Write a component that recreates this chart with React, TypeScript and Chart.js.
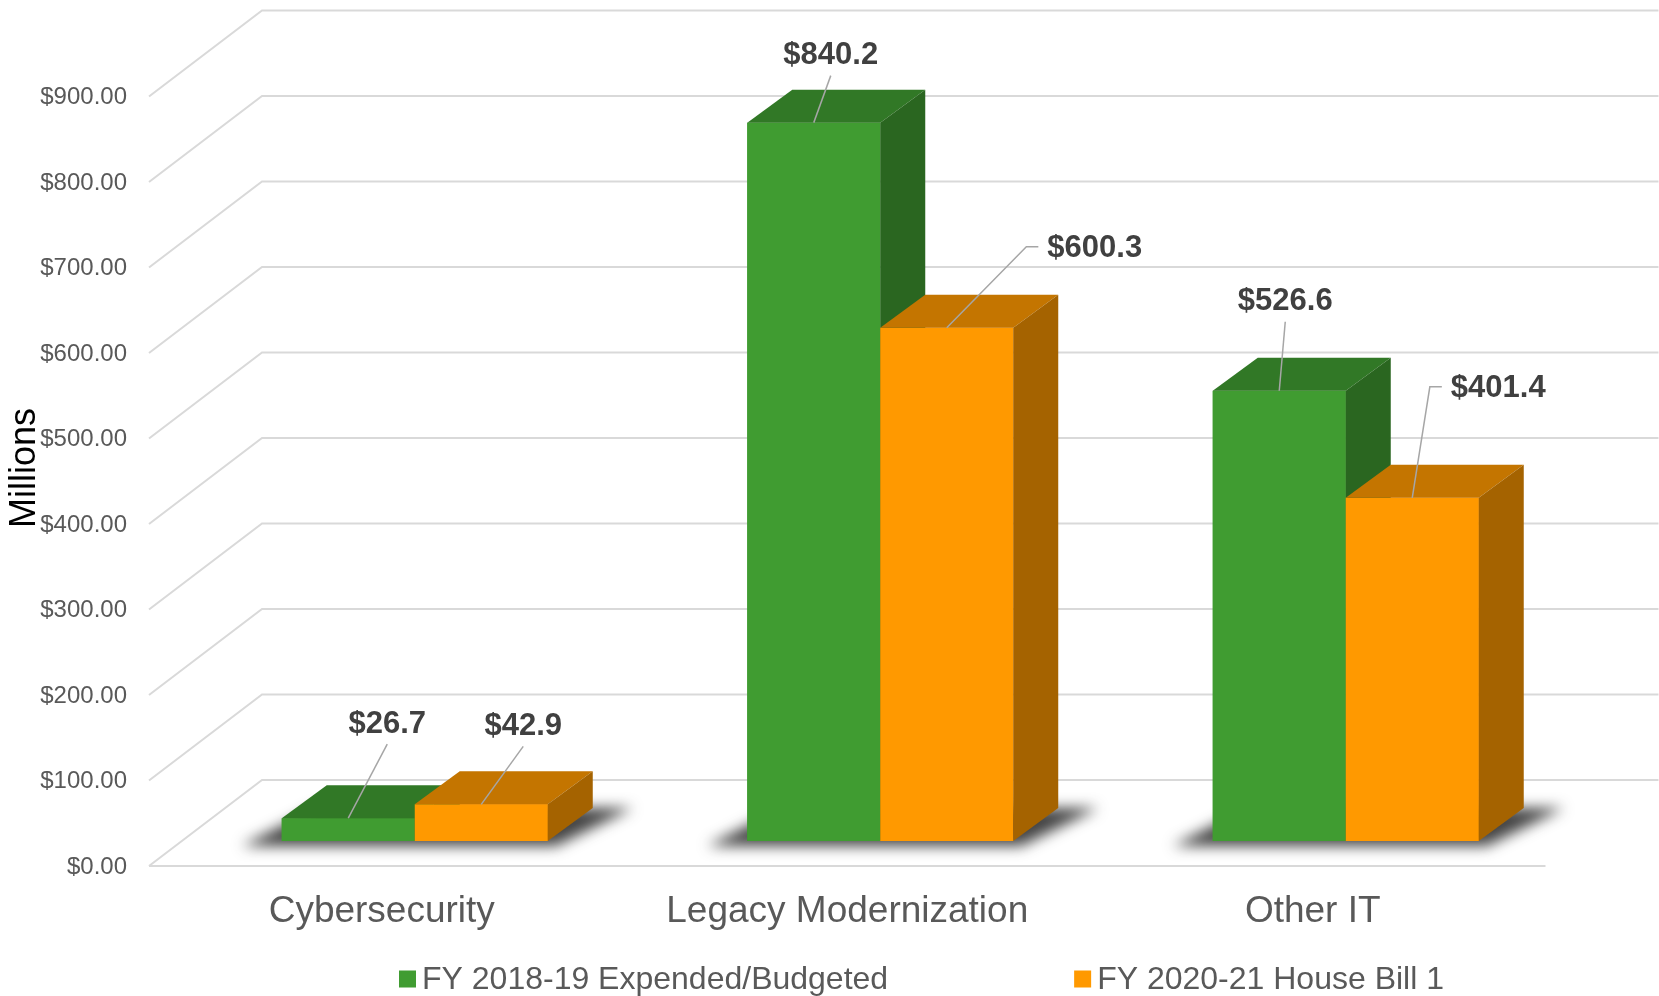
import React, { useEffect, useRef } from 'react';
import { Chart, registerables } from 'chart.js';

Chart.register(...registerables);

// ---- data ----
const categories = ['Cybersecurity', 'Legacy Modernization', 'Other IT'];
const seriesNames = ['FY 2018-19 Expended/Budgeted', 'FY 2020-21 House Bill 1'];
const fy1819Values = [26.7, 840.2, 526.6];
const fy2021Values = [42.9, 600.3, 401.4];
const yMin = 0;
const yMax = 900;
const yStep = 100;
const yAxisTitle = 'Millions';
const formatTick = (v: number) => '$' + v.toFixed(2);
const formatValue = (v: number) => '$' + v.toFixed(1);

// ---- styles ----
const FONT = '"Liberation Sans", Arial, Helvetica, sans-serif';
const FACES = [
  { front: '#409C31', top: '#317826', side: '#2A6620' },
  { front: '#FF9900', top: '#C47500', side: '#A56300' },
];
const BAR_DEPTH = { x: 45, y: -33 };
const WALL_FRONT = { x: -33, y: 25 };
const WALL_BACK = { x: 80, y: -61 };
const GRID_COLOR = '#d9d9d9';

// label placement relative to the bar's front-top centre
const labelPlacement = [
  [
    { dx: 39, dy: -94, leader: 'below' },
    { dx: 17, dy: -67, leader: 'below' },
    { dx: 6, dy: -89, leader: 'below' },
  ],
  [
    { dx: 42, dy: -78, leader: 'below' },
    { dx: 148, dy: -79, leader: 'left' },
    { dx: 86, dy: -109, leader: 'left' },
  ],
];

function poly(ctx: CanvasRenderingContext2D, pts: number[][]) {
  ctx.beginPath();
  ctx.moveTo(pts[0][0], pts[0][1]);
  for (let i = 1; i < pts.length; i++) ctx.lineTo(pts[i][0], pts[i][1]);
  ctx.closePath();
  ctx.fill();
}

const threeDPlugin = {
  id: 'threeD',
  beforeDatasetsDraw(chart: any) {
    const ctx: CanvasRenderingContext2D = chart.ctx;
    const { left, right } = chart.chartArea;
    const y = chart.scales.y;
    ctx.save();
    ctx.strokeStyle = GRID_COLOR;
    ctx.lineWidth = 2;
    y.ticks.forEach((t: any) => {
      const py = y.getPixelForValue(t.value);
      ctx.beginPath();
      ctx.moveTo(left + WALL_FRONT.x, py + WALL_FRONT.y);
      ctx.lineTo(left + WALL_BACK.x, py + WALL_BACK.y);
      ctx.lineTo(right + WALL_BACK.x, py + WALL_BACK.y);
      ctx.stroke();
    });
    const p0 = y.getPixelForValue(0);
    ctx.beginPath();
    ctx.moveTo(left + WALL_FRONT.x, p0 + WALL_FRONT.y);
    ctx.lineTo(right + WALL_FRONT.x, p0 + WALL_FRONT.y);
    ctx.stroke();

    // shadows under each category group
    const m0 = chart.getDatasetMeta(0);
    const m1 = chart.getDatasetMeta(1);
    ctx.filter = 'blur(7px)';
    ctx.fillStyle = 'rgba(35,35,35,0.85)';
    m0.data.forEach((b: any, i: number) => {
      const o = m1.data[i];
      const x0 = b.x - b.width / 2;
      const x1 = o.x + o.width / 2;
      const base = b.base;
      poly(ctx, [
        [x0 - 40, base + 5],
        [x1 + 8, base + 5],
        [x1 + BAR_DEPTH.x + 40, base + BAR_DEPTH.y],
        [x0 + BAR_DEPTH.x - 10, base + BAR_DEPTH.y],
      ]);
    });
    ctx.restore();
  },
  afterDatasetsDraw(chart: any) {
    const ctx: CanvasRenderingContext2D = chart.ctx;
    // 3D boxes, painted left series first so that the right series sits in front
    ctx.save();
    chart.data.datasets.forEach((_ds: any, si: number) => {
      const faces = FACES[si];
      chart.getDatasetMeta(si).data.forEach((bar: any) => {
        bar.draw(ctx);
        const { x, y, width, base } = bar.getProps(['x', 'y', 'width', 'base'], true);
        const l = x - width / 2;
        const r = x + width / 2;
        const dx = BAR_DEPTH.x;
        const dy = BAR_DEPTH.y;
        ctx.fillStyle = faces.top;
        poly(ctx, [[l, y], [r, y], [r + dx, y + dy], [l + dx, y + dy]]);
        ctx.fillStyle = faces.side;
        poly(ctx, [[r, y], [r + dx, y + dy], [r + dx, base + dy], [r, base]]);
      });
    });
    ctx.restore();

    // value labels with leader lines
    ctx.save();
    ctx.font = `bold 31px ${FONT}`;
    ctx.textAlign = 'center';
    ctx.textBaseline = 'middle';
    chart.data.datasets.forEach((ds: any, si: number) => {
      const meta = chart.getDatasetMeta(si);
      meta.data.forEach((bar: any, ci: number) => {
        const { x, y } = bar.getProps(['x', 'y'], true);
        const pl = labelPlacement[si][ci];
        const lx = x + pl.dx;
        const ly = y + pl.dy;
        const text = formatValue(ds.data[ci]);
        const tw = ctx.measureText(text).width;
        ctx.strokeStyle = '#a6a6a6';
        ctx.lineWidth = 1.5;
        ctx.beginPath();
        if (pl.leader === 'below') {
          ctx.moveTo(lx, ly + 20);
          ctx.lineTo(x, y);
        } else {
          const sx = lx - tw / 2 - 9;
          ctx.moveTo(sx, ly - 2);
          ctx.lineTo(sx - 12, ly - 2);
          ctx.lineTo(x, y);
        }
        ctx.stroke();
        ctx.fillStyle = '#404040';
        ctx.fillText(text, lx, ly);
      });
    });
    ctx.restore();
  },
  afterDraw(chart: any) {
    const ctx: CanvasRenderingContext2D = chart.ctx;
    ctx.save();
    // y-axis title
    ctx.translate(25, 468);
    ctx.rotate(-Math.PI / 2);
    ctx.font = `36px ${FONT}`;
    ctx.fillStyle = '#000000';
    ctx.textAlign = 'center';
    ctx.textBaseline = 'middle';
    ctx.fillText(yAxisTitle, 0, 0);
    ctx.restore();

    // legend
    ctx.save();
    ctx.font = `32px ${FONT}`;
    ctx.textBaseline = 'middle';
    ctx.textAlign = 'left';
    const box = 17;
    const gap = 6;
    const spacing = 186;
    const widths = chart.data.datasets.map((d: any) => box + gap + ctx.measureText(d.label).width);
    const total = widths.reduce((a: number, b: number) => a + b, 0) + spacing * (widths.length - 1);
    let cx = 921.5 - total / 2;
    const cy = 979;
    chart.data.datasets.forEach((d: any, i: number) => {
      ctx.fillStyle = FACES[i].front;
      ctx.fillRect(cx, cy - box / 2, box, box);
      ctx.fillStyle = '#595959';
      ctx.fillText(d.label, cx + box + gap, cy + 1);
      cx += widths[i] + spacing;
    });
    ctx.restore();
  },
};

export default function App() {
  const canvasRef = useRef<HTMLCanvasElement | null>(null);

  useEffect(() => {
    if (!canvasRef.current) return;
    const chart = new Chart(canvasRef.current, {
      type: 'bar',
      data: {
        labels: categories,
        datasets: [
          { label: seriesNames[0], data: fy1819Values, backgroundColor: FACES[0].front, borderWidth: 0 },
          { label: seriesNames[1], data: fy2021Values, backgroundColor: FACES[1].front, borderWidth: 0 },
        ],
      },
      options: {
        animation: false,
        responsive: true,
        maintainAspectRatio: false,
        layout: { padding: { top: 71.5, right: 80.5, bottom: 0, left: 0 } },
        datasets: { bar: { categoryPercentage: 0.5714, barPercentage: 1 } },
        plugins: {
          legend: { display: false },
          tooltip: { enabled: false },
        },
        scales: {
          x: {
            grid: { display: false, drawTicks: false },
            border: { display: false },
            ticks: {
              font: { family: FONT, size: 37 },
              color: '#595959',
              padding: 49,
              labelOffset: -33,
              maxRotation: 0,
              autoSkip: false,
            },
            afterFit: (s: any) => { s.height = 155; },
          },
          y: {
            min: yMin,
            max: yMax,
            grid: { display: false, drawTicks: false },
            border: { display: false },
            ticks: {
              stepSize: yStep,
              callback: (v: any) => formatTick(Number(v)),
              font: { family: FONT, size: 24 },
              color: '#595959',
              padding: 55,
              labelOffset: 26,
              autoSkip: false,
            },
            afterFit: (s: any) => { s.width = 182; },
          },
        },
      },
      plugins: [threeDPlugin],
    });
    return () => chart.destroy();
  }, []);

  return (
    <div style={{ position: 'fixed', left: 0, top: 0, width: 1659, height: 996, background: '#ffffff' }}>
      <canvas ref={canvasRef} />
    </div>
  );
}
